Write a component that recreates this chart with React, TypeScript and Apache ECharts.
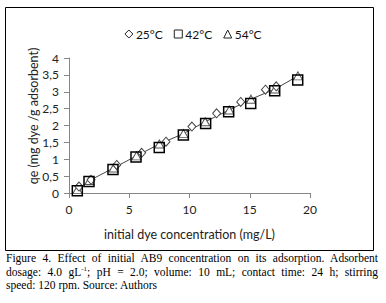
import React, { useEffect, useRef } from "react";
import * as echarts from "echarts";

const xTicks = [0, 5, 10, 15, 20];
const yTicks = [0, 0.5, 1, 1.5, 2, 2.5, 3, 3.5, 4];

const x25 = [0.83, 1.83, 3.96, 6.03, 8.05, 10.2, 12.25, 14.25, 16.3, 17.2];
const y25 = [0.19, 0.39, 0.83, 1.19, 1.52, 1.97, 2.36, 2.7, 3.06, 3.16];

const x42 = [0.69, 1.66, 3.65, 5.56, 7.49, 9.49, 11.34, 13.25, 15.08, 17.07, 18.98];
const y42 = [0.07, 0.34, 0.7, 1.07, 1.35, 1.72, 2.06, 2.41, 2.65, 3.03, 3.35];

const x54 = [0.7, 1.7, 3.7, 5.6, 7.5, 9.5, 11.3, 13.3, 15.1, 17.1, 19.0];
const y54 = [0.1, 0.37, 0.74, 1.1, 1.45, 1.76, 2.11, 2.46, 2.78, 3.08, 3.47];

const names = ["25°C", "42°C", "54°C"];

const FONT = "Lato";

export default function App() {
  const ref = useRef<HTMLDivElement>(null);
  useEffect(() => {
    if (!ref.current) return;
    const chart = echarts.init(ref.current, null, { renderer: "svg" });
    const pts = (xs: number[], ys: number[]) => xs.map((x, i) => [x, ys[i]]);
    chart.setOption({
      animation: false,
      textStyle: { fontFamily: FONT },
      legend: {
        top: 23,
        left: "center",
        itemWidth: 8,
        itemHeight: 8,
        itemGap: 11,
        itemStyle: { color: "#fff", borderColor: "#222", borderWidth: 1 },
        textStyle: { fontFamily: FONT, fontSize: 12, color: "#111", padding: [0, 0, 0, -2] },
        data: [
          { name: names[0], icon: "diamond" },
          { name: names[1], icon: "rect" },
          { name: names[2], icon: "triangle" },
        ],
      },
      grid: { left: 69, right: 76, top: 58, bottom: 59 },
      xAxis: {
        type: "value",
        min: 0,
        max: 20,
        interval: 5,
        splitLine: { show: false },
        axisLine: { show: true, lineStyle: { color: "#868686" } },
        axisTick: { show: true, length: 5, lineStyle: { color: "#868686" } },
        axisLabel: { fontFamily: FONT, fontSize: 12, color: "#222", margin: 10 },
        name: "initial dye concentration (mg/L)",
        nameLocation: "middle",
        nameGap: 35,
        nameTextStyle: { fontFamily: FONT, fontSize: 12.5, color: "#222" },
      },
      yAxis: {
        type: "value",
        min: 0,
        max: 4,
        interval: 0.5,
        splitLine: { show: false },
        axisLine: { show: true, lineStyle: { color: "#868686" } },
        axisTick: { show: true, length: 5, lineStyle: { color: "#868686" } },
        axisLabel: {
          fontFamily: FONT,
          fontSize: 12,
          color: "#222",
          margin: 10,
          formatter: (v: number) => String(v).replace(".", ","),
        },
      },
      graphic: [
        {
          type: "rect",
          shape: { x: 5.5, y: 7.5, width: 368, height: 243 },
          style: { fill: "none", stroke: "#000", lineWidth: 1 },
          silent: true,
        },
        {
          type: "text",
          x: 33,
          y: 116,
          rotation: Math.PI / 2,
          style: {
            text: "qe (mg dye /g adsorbent)",
            font: `12.5px ${FONT}`,
            fill: "#222",
            textAlign: "center",
            textVerticalAlign: "middle",
          },
        },
      ],
      series: [
        {
          name: names[2],
          type: "line",
          data: pts(x54, y54),
          symbol: "triangle",
          symbolSize: [9, 8],
          showSymbol: true,
          lineStyle: { color: "#444", width: 1 },
          itemStyle: { color: "#fff", borderColor: "#555", borderWidth: 1 },
          z: 3,
        },
        {
          name: names[0],
          type: "scatter",
          data: pts(x25, y25),
          symbol: "diamond",
          symbolSize: [8, 9],
          itemStyle: { color: "#fff", borderColor: "#444", borderWidth: 1, opacity: 1 },
          z: 4,
        },
        {
          name: names[1],
          type: "scatter",
          data: pts(x42, y42),
          symbol: "rect",
          symbolSize: 10,
          itemStyle: { color: "rgba(255,255,255,0)", borderColor: "#000", borderWidth: 1.5, opacity: 1 },
          z: 5,
        },
      ],
    });
    return () => chart.dispose();
  }, []);

  const lineStyle: React.CSSProperties = {
    textAlign: "justify",
    textAlignLast: "justify",
    whiteSpace: "nowrap",
  };

  return (
    <div style={{ position: "fixed", left: 0, top: 0, width: 386, height: 303, background: "#fff" }}>
      <div ref={ref} style={{ position: "absolute", left: 0, top: 0, width: 386, height: 252 }} />
      <div
        style={{
          position: "absolute",
          left: 6,
          top: 252,
          width: 372,
          fontFamily: "'Liberation Serif', 'Times New Roman', serif",
          fontSize: 11.5,
          lineHeight: "13.6px",
          color: "#000",
        }}
      >
        <div style={lineStyle}>Figure 4. Effect of initial AB9 concentration on its adsorption. Adsorbent</div>
        <div style={lineStyle}>
          dosage: 4.0 gL<sup style={{ fontSize: 7, lineHeight: 0 }}>-1</sup>; pH = 2.0; volume: 10 mL; contact time: 24 h; stirring
        </div>
        <div>speed: 120 rpm. Source: Authors</div>
      </div>
    </div>
  );
}
